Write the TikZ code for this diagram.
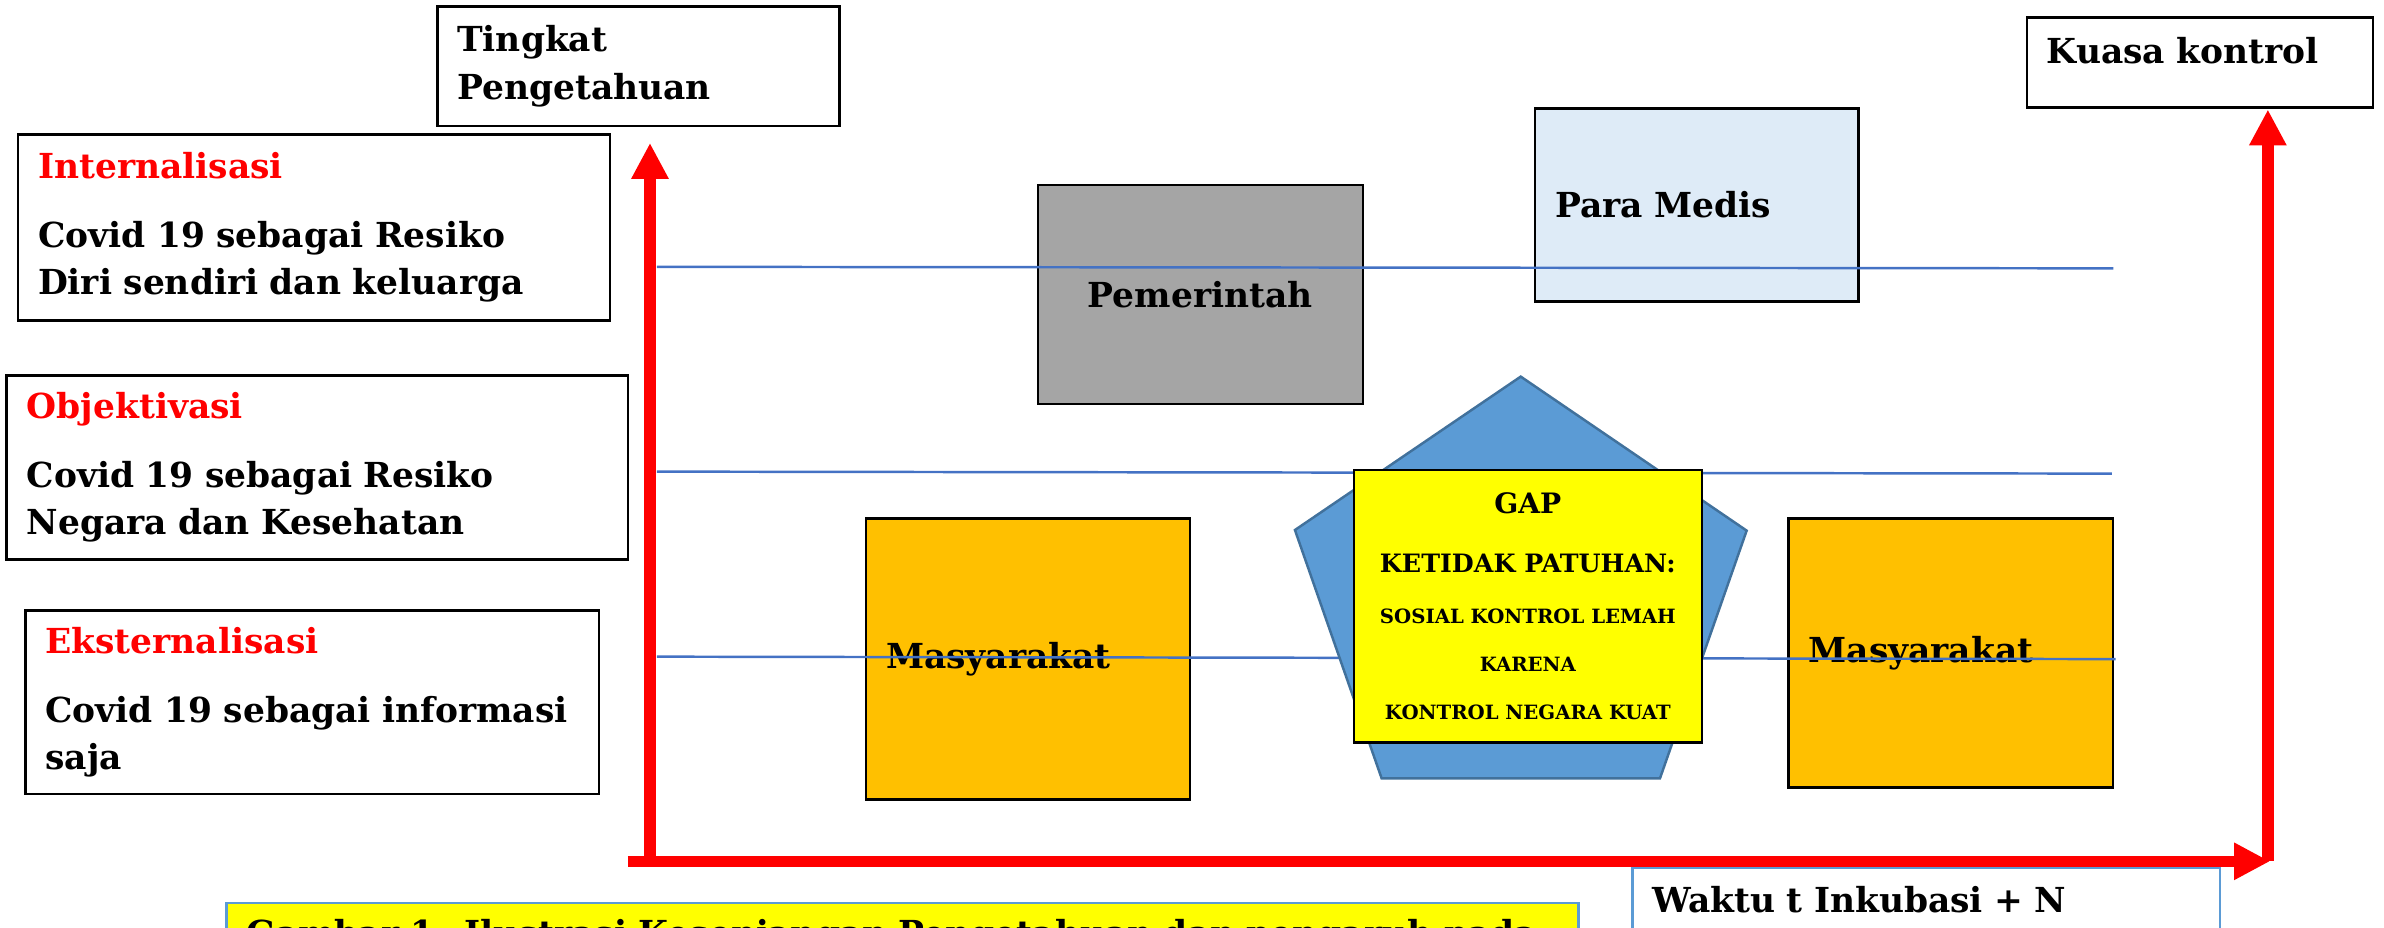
\documentclass[tikz,border=0pt]{standalone}
\usepackage{fontspec}
\setmainfont{DejaVu Serif}
\usepackage{xcolor}
\usepackage{tikz}
\usetikzlibrary{arrows.meta, positioning, calc}
\definecolor{axisred}{HTML}{FF0000}
\definecolor{levelblue}{HTML}{4472C4}
\definecolor{pentablue}{HTML}{5B9BD5}
\definecolor{pentaedge}{HTML}{41719C}
\definecolor{govgray}{HTML}{A5A5A5}
\definecolor{medblue}{HTML}{DEEBF7}
\definecolor{folkorange}{HTML}{FFC000}
\definecolor{gapyellow}{HTML}{FFFF00}
\newcommand{\bodyfont}{\fontsize{9.8pt}{13.5pt}\selectfont\bfseries}
\newcommand{\stagename}[1]{\textcolor{axisred}{#1}\\[6pt]}
\tikzstyle{stagebox} = [draw=black, rectangle, line width=0.75pt, inner xsep=2mm, inner ysep=0pt, align=left, font=\bodyfont]
\tikzstyle{actorbox} = [draw=black, rectangle, line width=0.75pt, inner xsep=2mm, inner ysep=0pt, align=left, font=\bodyfont]
\tikzstyle{gapbox} = [draw=black, rectangle, line width=0.75pt, fill=gapyellow, minimum width=34.8mm, minimum height=27.23mm, align=center, font=\fontsize{5.6pt}{13.7pt}\selectfont\bfseries]
\tikzstyle{notebox} = [draw=pentablue, rectangle, line width=0.75pt, anchor=north west, inner xsep=2mm, text height=2.6mm, text depth=6mm, align=left, font=\bodyfont]
\tikzstyle{pentagon} = [fill=pentablue, draw=pentaedge, line width=0.7pt]
\tikzstyle{levelline} = [levelblue, line width=0.7pt]
\tikzstyle{axisarrw} = [axisred, line width=3.3pt, -{Triangle[length=3.6mm, width=3.5mm]}]

\begin{document}
\begin{tikzpicture}[x=0.15204mm, y=-0.15204mm]
    \useasboundingbox (0,0) rectangle (1568,610);
    \clip (0,0) rectangle (1568,610);

    \node (tingkat) [stagebox, text width=36.2mm, minimum height=11.94mm] at (419.8,43.65) {Tingkat\\Pengetahuan};
    \node (intern) [stagebox, text width=55.2mm, minimum height=18.62mm] at (206.55,149.65) {\stagename{Internalisasi}Covid 19 sebagai Resiko\\Diri sendiri dan keluarga};
    \node (objek) [stagebox, text width=58.1mm, minimum height=18.37mm] at (208.7,307.5) {\stagename{Objektivasi}Covid 19 sebagai Resiko\\Negara dan Kesehatan};
    \node (ekstern) [stagebox, text width=53.35mm, minimum height=18.32mm] at (205.3,461.95) {\stagename{Eksternalisasi}Covid 19 sebagai informasi\\saja};
    \node (kuasa) [stagebox, anchor=north west, text width=30.6mm, inner ysep=2mm, text height=2.6mm, text depth=2.4mm] at (1332.2,10.5) {Kuasa kontrol};

    \node (pemerintah) [actorbox, fill=govgray, minimum width=32.5mm, minimum height=21.9mm, align=center] at (789.5,193.8) {Pemerintah};
    \node (medis) [actorbox, fill=medblue, text width=28.35mm, minimum height=19.3mm] at (1116,134.9) {Para Medis};
    \node (masy1) [actorbox, fill=folkorange, text width=28.4mm, minimum height=28.14mm] at (676.2,433.5) {Masyarakat};
    \node (masy2) [actorbox, fill=folkorange, text width=28.43mm, minimum height=26.9mm] at (1283,429.4) {Masyarakat};

    % levels
    \draw [levelline] (432,175.5) -- (1390,176.5);
    \draw [levelline] (432,310.2) -- (1389,311.5);
    \draw [levelline] (432,431.9) -- (1391.5,433.5);

    \filldraw [pentagon] (1000.2,247.7) -- (1148.8,349) -- (1091.8,511.9) -- (908.7,511.9) -- (851.7,348.6) -- cycle;
    \node (gap) [gapbox] at (1004.9,398.65) {{\fontsize{8pt}{13.7pt}\selectfont GAP}\\[3pt]{\fontsize{7.2pt}{13.7pt}\selectfont KETIDAK PATUHAN:}\\[0.8pt]SOSIAL KONTROL LEMAH\\KARENA\\KONTROL NEGARA KUAT};

    \node (waktu) [notebox, text width=54.75mm, inner ysep=1.9mm] at (1072.8,570) {Waktu t Inkubasi + N};
    \node (caption) [notebox, fill=gapyellow, text width=131.2mm, inner ysep=1.67mm] at (148.2,593.1) {Gambar 1: Ilustrasi Kesenjangan Pengetahuan dan pengaruh pada};

    % axes
    \coordinate (ybase) at (427.5,570);
    \coordinate (ytip) at (427.5,94);
    \coordinate (xbase) at (413,566.5);
    \coordinate (xtip) at (1493,566.5);
    \coordinate (cbase) at (1491.6,566.5);
    \coordinate (ctip) at (1491.6,72);
    \draw [axisarrw] (ybase) -- (ytip);
    \draw [axisarrw] (xbase) -- (xtip);
    \draw [axisarrw] (cbase) -- (ctip);
\end{tikzpicture}
\end{document}
